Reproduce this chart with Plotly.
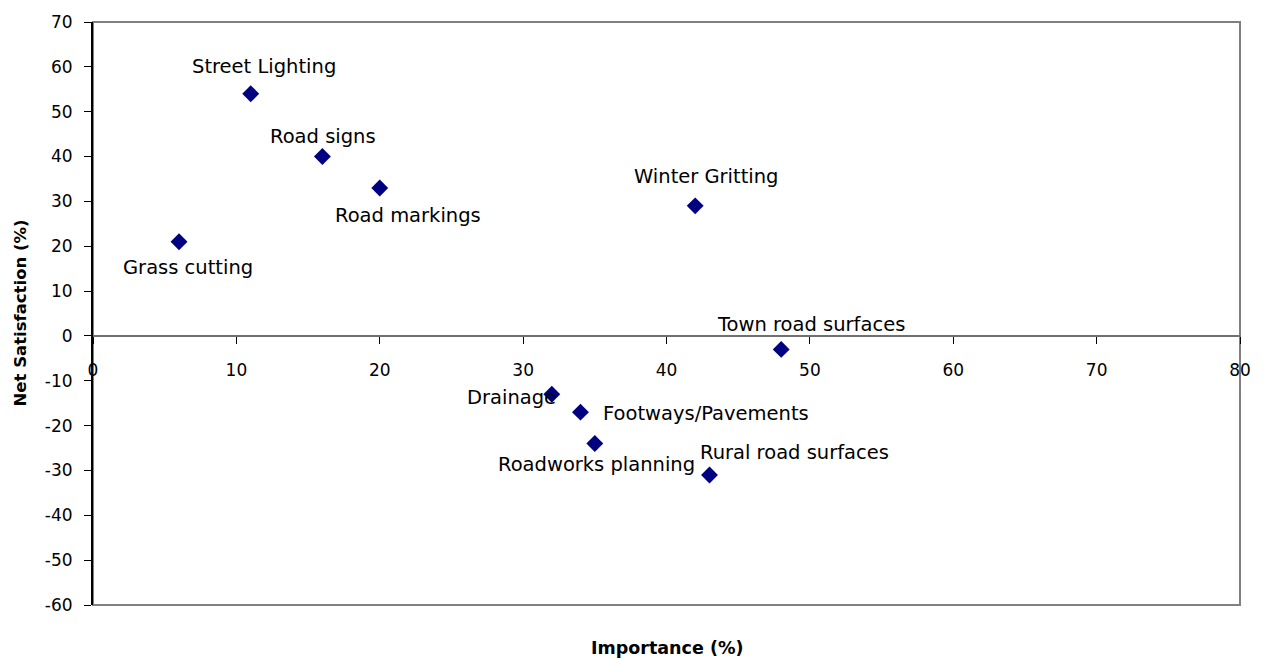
import plotly.graph_objects as go

# Data
services = ["Street Lighting", "Road signs", "Road markings", "Grass cutting",
            "Winter Gritting", "Town road surfaces", "Drainage",
            "Footways/Pavements", "Roadworks planning", "Rural road surfaces"]
importance = [11, 16, 20, 6, 42, 48, 32, 34, 35, 43]
net_satisfaction = [54, 40, 33, 21, 29, -3, -13, -17, -24, -31]

# label offsets in pixels (dx right, dy up) relative to each point
label_dx = [13, 1, 28, 9, 11, 30, -40, 126, 2, 85]
label_dy = [27, 20, -28, -26, 29, 25, -3, -1, -21, 22]

x_ticks = [0, 10, 20, 30, 40, 50, 60, 70, 80]
y_ticks = [70, 60, 50, 40, 30, 20, 10, 0, -10, -20, -30, -40, -50, -60]

FONT = "DejaVu Sans"

fig = go.Figure()
fig.add_trace(go.Scatter(
    x=importance, y=net_satisfaction, mode="markers",
    marker=dict(symbol="diamond", size=13, color="#000080",
                line=dict(width=0)),
    hoverinfo="skip", showlegend=False,
))

for name, xv, yv, dx, dy in zip(services, importance, net_satisfaction, label_dx, label_dy):
    fig.add_annotation(x=xv, y=yv, xref="x", yref="y", text=name, showarrow=False,
                       xshift=dx, yshift=dy, xanchor="center", yanchor="middle",
                       font=dict(family=FONT, size=19.5, color="black"))

# axis titles
fig.add_annotation(x=0.5, y=0, xref="paper", yref="paper", text="<b>Importance (%)</b>",
                   showarrow=False, yshift=-43, xanchor="center", yanchor="middle",
                   font=dict(family=FONT, size=17.5, color="black"))
fig.add_annotation(x=0, y=0.5, xref="paper", yref="paper", text="<b>Net Satisfaction (%)</b>",
                   showarrow=False, xshift=-73, textangle=-90, xanchor="center",
                   yanchor="middle", font=dict(family=FONT, size=16.5, color="black"))

# plot frame
fig.add_shape(type="rect", xref="paper", yref="paper", x0=0, y0=0, x1=1, y1=1,
              line=dict(color="#808080", width=2), layer="below")

ymin, ymax = -60, 70
fig.update_layout(
    width=1264, height=659,
    margin=dict(l=93, r=24, t=16, b=54),
    paper_bgcolor="white", plot_bgcolor="white",
    font=dict(family=FONT, size=17, color="black"),
    xaxis=dict(range=[0, 80], tickvals=x_ticks, ticktext=[str(v) for v in x_ticks],
               showgrid=False, zeroline=False,
               showline=True, linecolor="#707070", linewidth=2,
               ticks="outside", ticklen=7, tickcolor="black", tickwidth=1,
               ticklabelstandoff=12,
               anchor="free", position=(0 - ymin) / (ymax - ymin),
               tickfont=dict(family=FONT, size=17, color="black")),
    yaxis=dict(range=[ymin, ymax], tickvals=y_ticks, ticktext=[str(v) for v in y_ticks],
               showgrid=False, zeroline=False,
               showline=True, linecolor="black", linewidth=2,
               ticks="outside", ticklen=7, tickcolor="black", tickwidth=1,
               ticklabelstandoff=8,
               tickfont=dict(family=FONT, size=17, color="black")),
)

fig.write_html("out.html", config={"displayModeBar": False},
               post_script="document.body.style.margin='0';document.body.style.padding='0';")
